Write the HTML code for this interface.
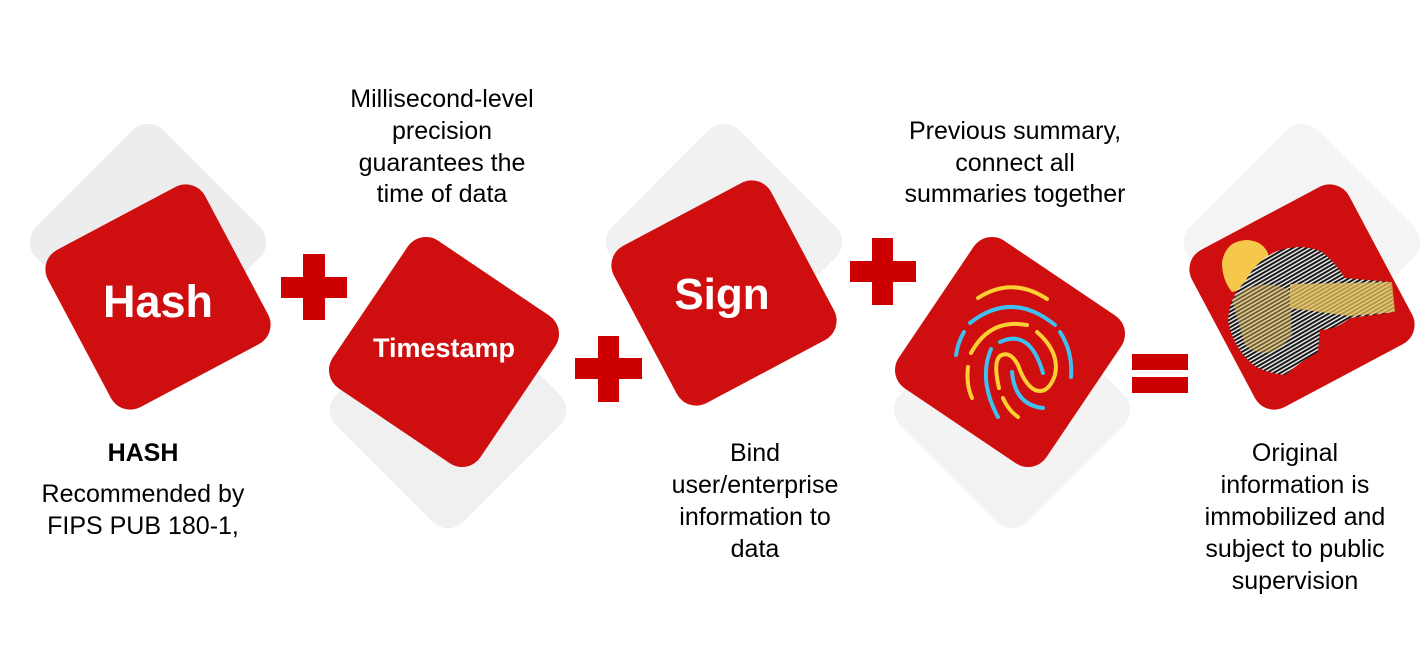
<!DOCTYPE html>
<html><head><meta charset="utf-8"><style>
html,body{margin:0;padding:0;background:#fff;}
svg{display:block;}
text{font-family:"Liberation Sans","DejaVu Sans",sans-serif;}
</style></head><body>
<svg width="1427" height="653" viewBox="0 0 1427 653" xmlns="http://www.w3.org/2000/svg">
<defs>
<pattern id="fp" width="3.4" height="3.4" patternUnits="userSpaceOnUse" patternTransform="rotate(60)">
<rect width="3.4" height="3.4" fill="#e8e8e8"/><rect width="1.9" height="3.4" fill="#151515"/>
</pattern>
</defs>
<g fill="#ededed">
<rect x="-90" y="-90" width="180" height="180" rx="22" transform="translate(148,242) rotate(45)"/>
<rect x="-90" y="-90" width="180" height="180" rx="22" transform="translate(448,410) rotate(45)" fill="#f0f0f0"/>
<rect x="-90" y="-90" width="180" height="180" rx="22" transform="translate(724,242) rotate(45)" fill="#f1f1f1"/>
<rect x="-90" y="-90" width="180" height="180" rx="22" transform="translate(1012,410) rotate(45)" fill="#f3f3f3"/>
<rect x="-90" y="-90" width="180" height="180" rx="22" transform="translate(1302,242) rotate(45)" fill="#f4f4f4"/>
</g>
<g fill="#cf0f0f">
<rect x="-89" y="-89" width="178" height="178" rx="22" transform="translate(158,297) rotate(-28)"/>
<rect x="-89" y="-89" width="178" height="178" rx="22" transform="translate(444,352) rotate(34)"/>
<rect x="-89" y="-89" width="178" height="178" rx="22" transform="translate(724,293) rotate(-28)"/>
<rect x="-89" y="-89" width="178" height="178" rx="22" transform="translate(1010,352) rotate(34)"/>
<rect x="-89" y="-89" width="178" height="178" rx="22" transform="translate(1302,297) rotate(-28)"/>
</g>
<g fill="#cc0000">
<rect x="281" y="277" width="66" height="21"/><rect x="303" y="254" width="22" height="66"/>
<rect x="575" y="358" width="67" height="21"/><rect x="598" y="336" width="21" height="66"/>
<rect x="850" y="261" width="66" height="21"/><rect x="872" y="238" width="21" height="67"/>
<rect x="1132" y="354" width="56" height="16"/><rect x="1132" y="377" width="56" height="16"/>
</g>
<g fill="#fff" font-weight="bold" text-anchor="middle">
<text x="158" y="317" font-size="45">Hash</text>
<text x="444" y="357" font-size="27">Timestamp</text>
<text x="722" y="309" font-size="44">Sign</text>
</g>
<g fill="none" stroke-width="4" stroke-linecap="round">
<path d="M978,298 Q1012,276 1047,299" stroke="#fcd033"/>
<path d="M970,323 Q1012,290 1055,325" stroke="#3ec0f0"/>
<path d="M1060,332 Q1073,352 1071,377" stroke="#3ec0f0"/>
<path d="M964,332 Q958,342 956,355" stroke="#3ec0f0"/>
<path d="M971,353 Q990,318 1027,325" stroke="#fcd033"/>
<path d="M1037,332 Q1060,352 1055,375 Q1048,395 1035,390 Q1025,385 1018,365 Q1010,350 1000,356 Q993,362 999,388" stroke="#fcd033"/>
<path d="M1000,342 Q1030,328 1043,373" stroke="#3ec0f0"/>
<path d="M991,349 Q978,380 998,417" stroke="#3ec0f0"/>
<path d="M968,367 Q966,385 972,398" stroke="#fcd033"/>
<path d="M1003,398 Q1008,410 1018,417" stroke="#fcd033"/>
<path d="M1012,372 Q1015,405 1043,408" stroke="#3ec0f0"/>
</g>
<g>
<path d="M1222,262 Q1226,240 1248,240 Q1268,242 1270,262 L1262,285 L1232,292 Q1222,280 1222,262 Z" fill="#f5c84c"/>
<path d="M1228,320 Q1230,295 1245,282 Q1255,262 1275,252 Q1300,242 1322,252 Q1335,262 1345,278 L1390,282 L1395,312 L1350,318 Q1335,330 1320,330 L1318,352 Q1300,362 1285,375 Q1260,372 1250,362 Q1232,345 1228,320 Z" fill="url(#fp)"/>
<path d="M1290,284 L1392,282 L1395,312 L1350,316 L1290,308 Z" fill="#e8c25a" opacity="0.75"/>
<path d="M1232,300 Q1255,275 1290,290 L1292,335 Q1270,365 1245,345 Z" fill="#e0b64d" opacity="0.45"/>
</g>
<g fill="#000" font-size="25" text-anchor="middle">
<text x="442" y="107">Millisecond-level</text>
<text x="442" y="139">precision</text>
<text x="442" y="171">guarantees the</text>
<text x="442" y="202">time of data</text>
<text x="1015" y="139">Previous summary,</text>
<text x="1015" y="171">connect all</text>
<text x="1015" y="202">summaries together</text>
<text x="143" y="461" font-weight="bold">HASH</text>
<text x="143" y="502">Recommended by</text>
<text x="143" y="534">FIPS PUB 180-1,</text>
<text x="755" y="461">Bind</text>
<text x="755" y="493">user/enterprise</text>
<text x="755" y="525">information to</text>
<text x="755" y="557">data</text>
<text x="1295" y="461">Original</text>
<text x="1295" y="493">information is</text>
<text x="1295" y="525">immobilized and</text>
<text x="1295" y="557">subject to public</text>
<text x="1295" y="589">supervision</text>
</g>
</svg>
</body></html>
